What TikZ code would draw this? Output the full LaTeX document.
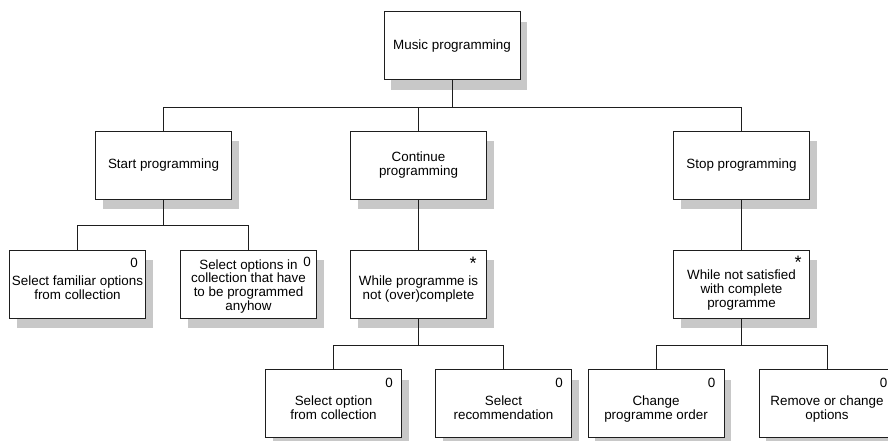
\documentclass[tikz,border=0pt]{standalone}
\usepackage{fontspec}
\setmainfont{Liberation Sans}
\usetikzlibrary{shadows,calc}
\definecolor{shadowgray}{RGB}{200,200,200}
\definecolor{linegray}{RGB}{30,30,30}
% text block set a little lower inside its box, leaving room for the tag
\newcommand{\lowblock}[2][6pt]{\raisebox{-#1}[\height][\depth]{\begin{tabular}{@{}c@{}}#2\end{tabular}}}
\tikzset{
  stepbox/.style={draw=linegray, line width=1pt, fill=white,
    minimum width=136pt, minimum height=68pt, inner sep=2pt, align=center,
    font=\fontsize{13.4}{13.8}\selectfont,
    drop shadow={shadow xshift=7pt, shadow yshift=-10pt, fill=shadowgray, opacity=1}},
  tag/.style={anchor=base, inner sep=0pt, font=\fontsize{13.4}{14}\selectfont},
  startag/.style={tag, font=\fontsize{18}{18}\selectfont},
  link/.style={draw=linegray, line width=1pt}
}
\renewcommand{\arraystretch}{1}
\begin{document}
\begin{tikzpicture}[x=1pt,y=-1pt]
\useasboundingbox (0,0) rectangle (888,441);
% level 0
\node[stepbox] (music) at (452,46) {Music programming};
% level 1
\node[stepbox] (start) at (163.5,165) {Start programming};
\node[stepbox] (cont)  at (418.5,165) {Continue\\programming};
\node[stepbox] (stop)  at (741.5,165) {Stop programming};
% level 2
\node[stepbox] (famil) at (77.5,284) {\lowblock{Select familiar options\\from collection}};
\node[stepbox] (anyh)  at (248.5,284) {\lowblock[3pt]{Select options in\\collection that have\\to be programmed\\anyhow}};
\node[stepbox] (whilec) at (418.5,284) {\lowblock{While programme is\\not (over)complete}};
\node[stepbox] (whiles) at (741.5,284) {\lowblock[7pt]{While not satisfied\\with complete\\programme}};
% level 3
\node[stepbox] (selopt) at (333.5,403.5) {\lowblock{Select option\\from collection}};
\node[stepbox] (selrec) at (503.5,403.5) {\lowblock{Select\\recommendation}};
\node[stepbox] (chord)  at (656,403.5) {\lowblock{Change\\programme order}};
\node[stepbox] (remov)  at (827,403.5) {\lowblock{Remove or change\\options}};
% selection and iteration tags
\node[tag] (t1) at ($(famil.north east)+(-12,18)$) {0};
\node[tag] (t2) at ($(anyh.north east)+(-10,17)$) {0};
\node[startag] (t3) at ($(whilec.north east)+(-14,20)$) {*};
\node[startag] (t4) at ($(whiles.north east)+(-12,19)$) {*};
\node[tag] (t5) at ($(selopt.north east)+(-13,18)$) {0};
\node[tag] (t6) at ($(selrec.north east)+(-13,18)$) {0};
\node[tag] (t7) at ($(chord.north east)+(-13,18)$) {0};
\node[tag] (t8) at ($(remov.north east)+(-12,18)$) {0};
% connectors
\coordinate (j0) at ($(music.south)+(0,27)$);
\draw[link] (music.south) -- (j0);
\draw[link] (start.north) |- (j0) -| (stop.north);
\draw[link] (cont.north) -- (cont.north |- j0);
\coordinate (j1) at ($(start.south)+(0,26)$);
\draw[link] (start.south) -- (j1);
\draw[link] (famil.north) |- (j1) -| (anyh.north);
\draw[link] (cont.south) -- (whilec.north);
\draw[link] (stop.south) -- (whiles.north);
\coordinate (j2) at ($(whilec.south)+(0,27)$);
\draw[link] (whilec.south) -- (j2);
\draw[link] (selopt.north) |- (j2) -| (selrec.north);
\coordinate (j3) at ($(whiles.south)+(0,27)$);
\draw[link] (whiles.south) -- (j3);
\draw[link] (chord.north) |- (j3) -| (remov.north);
\end{tikzpicture}
\end{document}
